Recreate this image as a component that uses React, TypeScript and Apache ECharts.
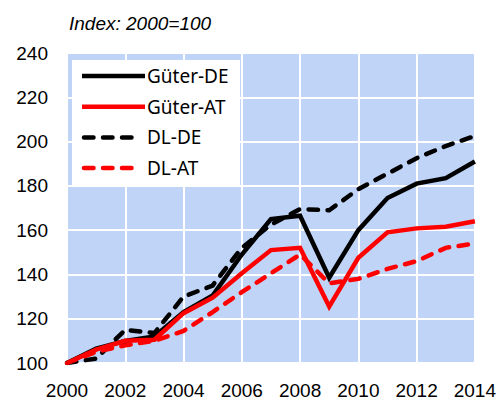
import React, { useEffect, useRef } from "react";
import * as echarts from "echarts";

const years = [2000, 2001, 2002, 2003, 2004, 2005, 2006, 2007, 2008, 2009, 2010, 2011, 2012, 2013, 2014];
const gueterDE = [100, 106.5, 110, 112, 123, 130.5, 149, 165, 166.5, 138.5, 160, 174.5, 181, 183.5, 191];
const gueterAT = [100, 106, 110, 110.5, 122.5, 129.5, 140.5, 151, 152, 125.5, 147.5, 159, 160.8, 161.5, 164];
const dlDE = [100, 102, 115, 113.5, 130, 135, 152, 162.5, 169.5, 169, 178.5, 185.5, 192.5, 198, 202.5];
const dlAT = [100, 105, 108, 110, 114.5, 123, 132, 140.5, 149, 136, 138, 142.5, 146, 152, 154];
const yTicks = [100, 120, 140, 160, 180, 200, 220, 240];
const xTicks = [2000, 2002, 2004, 2006, 2008, 2010, 2012, 2014];
const seriesNames = ["Güter-DE", "Güter-AT", "DL-DE", "DL-AT"];
const seriesColors = ["#000000", "#ff0000", "#000000", "#ff0000"];
const seriesDashed = [false, false, true, true];
const seriesValues = [gueterDE, gueterAT, dlDE, dlAT];

const pairs = (v: number[]) => years.map((y, i) => [y, v[i]]);

export default function App() {
  const ref = useRef<HTMLDivElement>(null);
  useEffect(() => {
    if (!ref.current) return;
    const chart = echarts.init(ref.current, null, { renderer: "svg" });
    const dash = [9.5, 9.5];
    const lw = 4.5;
    const legendItems: any[] = [
      { type: "rect", z: 100, shape: { x: 0, y: 0, width: 168, height: 125 }, style: { fill: "#ffffff" } },
    ];
    seriesNames.forEach((n, i) => {
      const cy = 16 + i * 30.7;
      legendItems.push({
        type: "line",
        z: 101,
        shape: { x1: seriesDashed[i] ? 12 : 10, y1: cy, x2: seriesDashed[i] ? 62 : 73, y2: cy },
        style: {
          stroke: seriesColors[i],
          lineWidth: lw,
          lineDash: seriesDashed[i] ? dash : null,
          lineCap: seriesDashed[i] ? "round" : "butt",
        },
      });
      legendItems.push({
        type: "text",
        z: 101,
        x: 75,
        y: cy,
        style: { text: n, fill: "#000", font: "19px 'Noto Sans'", textVerticalAlign: "middle", verticalAlign: "middle" },
      });
    });
    chart.setOption({
      animation: false,
      textStyle: { fontFamily: "Liberation Sans, Arial, sans-serif" },
      title: {
        text: "Index: 2000=100",
        left: 64,
        top: 9,
        textStyle: { fontSize: 19, fontStyle: "italic", fontWeight: "normal", color: "#000", fontFamily: "Liberation Sans" },
      },
      grid: {
        left: 67,
        right: 24,
        top: 53,
        bottom: 37,
        show: true,
        backgroundColor: "#c0d4f7",
        borderWidth: 0,
      },
      graphic: [{ type: "group", x: 72, y: 60, z: 100, children: legendItems }],
      xAxis: {
        type: "value",
        min: 2000,
        max: 2014,
        interval: 2,
        axisLine: { show: false },
        axisTick: { show: false },
        splitLine: { show: true, lineStyle: { color: "#ffffff", width: 2 } },
        axisLabel: {
          fontSize: 19,
          color: "#000",
          margin: 18,
          formatter: (v: number) => (xTicks.includes(v) ? String(v) : ""),
        },
      },
      yAxis: {
        type: "value",
        min: 100,
        max: 240,
        interval: 20,
        axisLine: { show: false },
        axisTick: { show: false },
        splitLine: { show: true, lineStyle: { color: "#ffffff", width: 2 } },
        axisLabel: {
          fontSize: 19,
          color: "#000",
          margin: 19,
          formatter: (v: number) => (yTicks.includes(v) ? String(v) : ""),
        },
      },
      series: seriesNames.map((name, i) => ({
        name,
        type: "line",
        data: pairs(seriesValues[i]),
        symbol: "none",
        lineStyle: {
          color: seriesColors[i],
          width: lw,
          type: seriesDashed[i] ? dash : "solid",
          cap: seriesDashed[i] ? "round" : "butt",
          join: "miter",
        },
        itemStyle: { color: seriesColors[i] },
        z: seriesDashed[i] ? 3 : 4,
      })),
    });
    return () => chart.dispose();
  }, []);
  return <div ref={ref} style={{ width: 499, height: 400, position: "absolute", left: 0, top: 0 }} />;
}
